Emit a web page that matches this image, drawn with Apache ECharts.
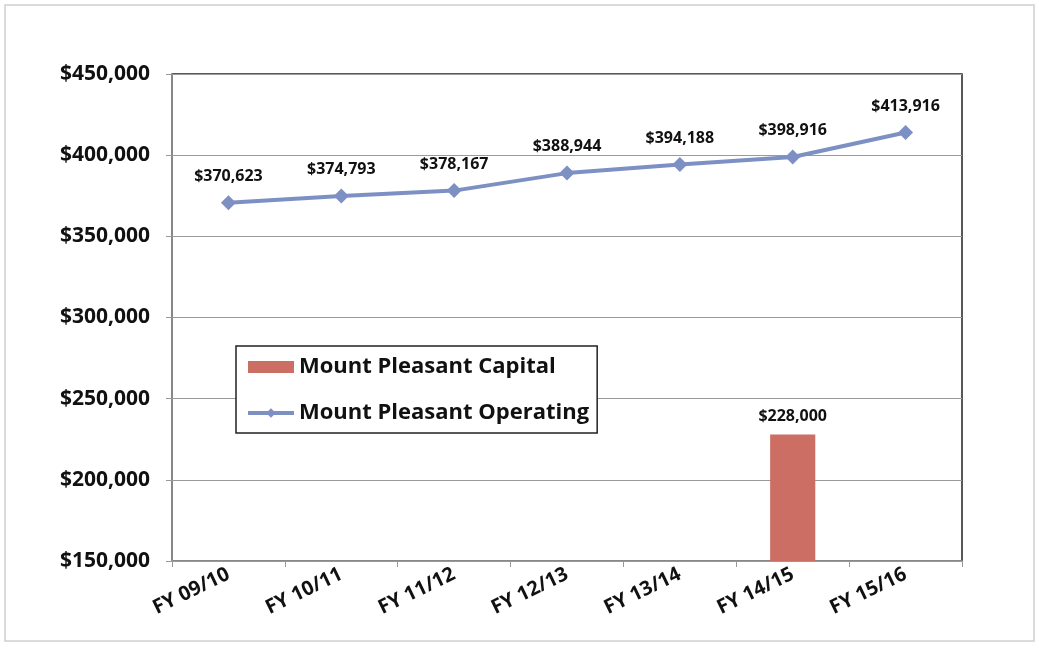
<!DOCTYPE html>
<html>
<head>
<meta charset="utf-8">
<script src="https://cdn.jsdelivr.net/npm/echarts@6/dist/echarts.min.js"></script>
<style>
  html, body { margin: 0; padding: 0; background: #fff; }
  #chart { width: 1039px; height: 653px; }
</style>
</head>
<body>
<div id="chart"></div>
<script>
// Fiscal years along the x axis
const categories = ["FY 09/10", "FY 10/11", "FY 11/12", "FY 12/13", "FY 13/14", "FY 14/15", "FY 15/16"];

// Capital only has a value in FY 14/15
const capital = [null, null, null, null, null, 228000, null];
const operating = [370623, 374793, 378167, 388944, 394188, 398916, 413916];

// Y axis range
const yMin = 150000;
const yMax = 450000;
const yStep = 50000;

const FONT = "'Open Sans', 'Liberation Sans', sans-serif";

function money(v) {
    return "$" + String(v).replace(/\B(?=(\d{3})+(?!\d))/g, ",");
}

const chart = echarts.init(document.getElementById("chart"), null, { renderer: "canvas" });

chart.setOption({
    animation: false,
    backgroundColor: "#fff",
    textStyle: { fontFamily: FONT },
    graphic: [{
        type: "rect",
        shape: { x: 5, y: 5, width: 1029, height: 636 },
        style: { fill: "none", stroke: "#cfcfcf", lineWidth: 1.5 },
        z: -1
    }],
    grid: {
        left: 172, right: 77, top: 74, bottom: 92,
        show: true, borderColor: "#222", borderWidth: 1.5, backgroundColor: "transparent"
    },
    legend: {
        left: 236, top: 346,
        orient: "vertical",
        itemWidth: 46, itemHeight: 12,
        itemGap: 24,
        padding: [10, 8, 9, 10],
        borderColor: "#222", borderWidth: 1.5,
        backgroundColor: "#fff",
        lineStyle: { width: 4 },
        textStyle: { fontSize: 22, fontWeight: "bold", color: "#111", fontFamily: FONT },
        data: [
            { name: "Mount Pleasant Capital", icon: "rect" },
            { name: "Mount Pleasant Operating" }
        ]
    },
    xAxis: {
        type: "category",
        data: categories,
        boundaryGap: true,
        axisLine: { lineStyle: { color: "#999", width: 1.5 } },
        axisTick: { show: true, length: 6, lineStyle: { color: "#999" } },
        axisLabel: {
            rotate: 26, margin: 12,
            fontSize: 20, fontWeight: "bold", color: "#111", fontFamily: FONT
        },
        splitLine: { show: false }
    },
    yAxis: {
        type: "value",
        min: yMin, max: yMax, interval: yStep,
        axisLine: { show: true, lineStyle: { color: "#999", width: 1.5 } },
        axisTick: { show: true, inside: false, length: 6, lineStyle: { color: "#999" } },
        axisLabel: {
            margin: 22,
            fontSize: 21, fontWeight: "bold", color: "#111", fontFamily: FONT,
            formatter: money
        },
        splitLine: { lineStyle: { color: "#9a9a9a", width: 1.2 } }
    },
    series: [
        {
            name: "Mount Pleasant Capital",
            type: "bar",
            data: capital,
            barWidth: "40%",
            itemStyle: { color: "#cc6e63" },
            label: {
                show: true, position: "top", distance: 10,
                fontSize: 16, fontWeight: "bold", color: "#111", fontFamily: FONT,
                formatter: p => money(p.value)
            }
        },
        {
            name: "Mount Pleasant Operating",
            type: "line",
            data: operating,
            symbol: "diamond",
            symbolSize: 15,
            lineStyle: { color: "#7d90c4", width: 4 },
            itemStyle: { color: "#7d90c4" },
            label: {
                show: true, position: "top", distance: 11,
                fontSize: 16, fontWeight: "bold", color: "#111", fontFamily: FONT,
                formatter: p => money(p.value)
            }
        }
    ]
});
</script>
</body>
</html>
